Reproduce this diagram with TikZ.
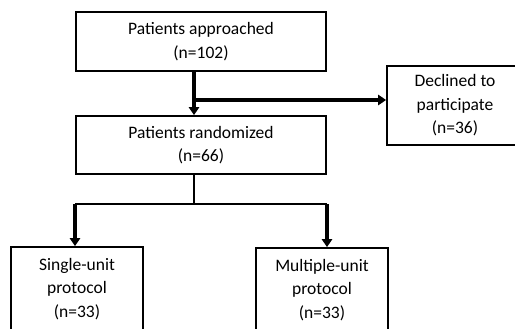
\documentclass[tikz,border=0pt]{standalone}
\usepackage{fontspec}
\setmainfont{Carlito}
\usetikzlibrary{arrows.meta}
\begin{document}
\begin{tikzpicture}[x=1pt,y=-1pt,
  box/.style={draw=black,line width=1.6pt,align=center,inner sep=0pt,
    font=\fontsize{17.5}{23.5}\selectfont},
  thick arrow/.style={line width=3.5pt,-{Triangle[length=8pt,width=10pt]}},
  thin line/.style={line width=1.6pt}]
\useasboundingbox (0,0) rectangle (515,329);
\clip (0,0) rectangle (515,329);
\node[box,minimum width=250pt,minimum height=59pt] (b1) at (201,41.5) {Patients approached\\(n=102)};
\node[box,minimum width=250pt,minimum height=58pt] (b2) at (201,145) {Patients randomized\\(n=66)};
\node[box,minimum width=136pt,minimum height=79pt] (dec) at (455,105.5) {Declined to\\participate\\(n=36)};
\node[box,minimum width=132pt,minimum height=84pt] (b3) at (77,289) {Single-unit\\protocol\\(n=33)};
\node[box,minimum width=132pt,minimum height=84pt] (b4) at (322,290) {Multiple-unit\\protocol\\(n=33)};
\coordinate (j1) at (194,100);
\coordinate (j2) at (194,204);
\coordinate (jl) at (75,204);
\coordinate (jr) at (327,204);
\draw[thick arrow] (j1 |- b1.south) -- (j1 |- b2.north);
\draw[thick arrow] (j1) -- (dec.west |- j1);
\draw[thin line] (j2 |- b2.south) -- (j2);
\draw[thin line] (jl) -- (jr);
\draw[thick arrow] (jl) -- (jl |- b3.north);
\draw[thick arrow] (jr) -- (jr |- b4.north);
\end{tikzpicture}
\end{document}
